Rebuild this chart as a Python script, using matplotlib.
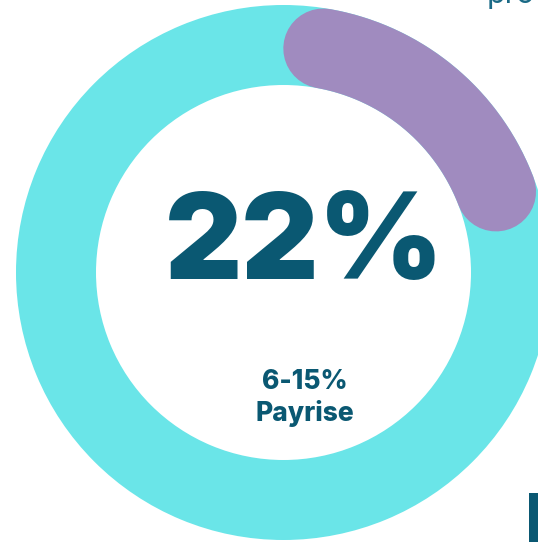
import matplotlib
matplotlib.use("Agg")
import matplotlib.pyplot as plt
from matplotlib.patches import Wedge, Rectangle
import numpy as np

# share of respondents with a 6-15% pay rise
share_pct = 22
headline = f"{share_pct}%"
band_label = "6-15%"
band_caption = "Payrise"

ring_color = "#6ae5e8"
arc_color = "#a08bbf"
text_color = "#0a5872"

W, H = 538, 542
fig = plt.figure(figsize=(W / 100, H / 100), dpi=100)
ax = fig.add_axes([0, 0, 1, 1])
ax.set_xlim(0, W)
ax.set_ylim(H, 0)
ax.set_aspect("equal")
ax.axis("off")

cx, cy = 283.5, 272.5
r_out, r_in = 267.5, 187.5
width = r_out - r_in
r_mid = (r_out + r_in) / 2

# background ring
ax.add_patch(Wedge((cx, cy), r_out, 0, 360, width=width, color=ring_color, lw=0))

# highlighted arc with rounded ends; the caps are counted inside the share
cap_deg = np.degrees((width / 2) / r_mid)
start = cap_deg
end = share_pct / 100 * 360 - cap_deg
theta = np.radians(np.linspace(start, end, 200))
xs = cx + r_mid * np.sin(theta)
ys = cy - r_mid * np.cos(theta)
lw_pt = width * 72 / 100
ax.plot(xs, ys, color=arc_color, lw=lw_pt, solid_capstyle="round")

ax.text(304, 279, headline, ha="center", va="baseline", fontsize=86,
        fontweight="black", family="Inter", color=text_color)
ax.text(305, 389, band_label, ha="center", va="baseline", fontsize=19,
        fontweight="heavy", family="Inter", color=text_color)
ax.text(305, 421, band_caption, ha="center", va="baseline", fontsize=19,
        fontweight="heavy", family="Inter", color=text_color)

# neighbouring page content
ax.text(487, 3, "pro", ha="left", va="baseline", fontsize=22,
        family="Inter", color="#1a6a86")
ax.add_patch(Rectangle((529, 493), 12, 60, color=text_color, lw=0))

fig.savefig("out.png", dpi=100)
